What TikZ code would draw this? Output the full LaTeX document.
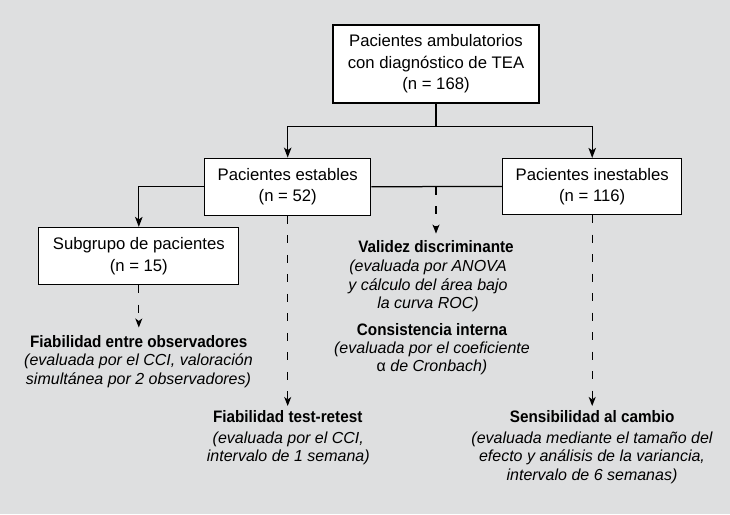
\documentclass[tikz,border=0pt]{standalone}
\usepackage{fontspec}
\setmainfont{Liberation Sans}
\newfontfamily\bcond{Liberation Sans}[FakeStretch=0.92]
\usetikzlibrary{arrows.meta}
\definecolor{bg}{RGB}{222,223,224}
\newcommand{\bx}[1]{\begin{tabular}{@{}c@{}}#1\end{tabular}}
\newcommand{\bt}[1]{\begin{tabular}[t]{@{}c@{}}#1\end{tabular}}
\begin{document}
\begin{tikzpicture}[x=1pt,y=-1pt,
  box/.style={draw=black,fill=white,line width=1.2pt,inner sep=0pt,font=\fontsize{16.7}{21.6}\selectfont},
  ttl/.style={inner xsep=0pt,inner ysep=4.5pt,anchor=base,font=\bcond\bfseries\fontsize{16.6}{18}\selectfont},
  body/.style={inner sep=0pt,anchor=base,font=\fontsize{16}{18.4}\selectfont\itshape},
  conn/.style={line width=1.25pt},
  arr/.style={conn,-{Stealth[length=10pt,width=7.5pt,inset=2.5pt]}},
  darr/.style={conn,dash pattern=on 8pt off 11.5pt,-{Stealth[length=9pt,width=7pt,inset=2.5pt]}}]
\fill[bg] (0,0) rectangle (730,514);
\node[box,minimum width=206pt,minimum height=78pt] (top) at (436,64) {\bx{Pacientes ambulatorios\\con diagnóstico de TEA\\(n = 168)}};
\node[box,minimum width=166pt,minimum height=57pt] (est) at (287.7,186.7) {\bx{Pacientes estables\\(n = 52)}};
\node[box,minimum width=179pt,minimum height=56pt] (ine) at (592.2,186.5) {\bx{Pacientes inestables\\(n = 116)}};
\node[box,minimum width=200pt,minimum height=57pt] (sub) at (138.8,256) {\bx{Subgrupo de pacientes\\(n = 15)}};
\node[ttl,inner ysep=8pt] (fe) at (138.8,347.7) {Fiabilidad entre observadores};
\node[body] (feb) at (138.5,365.7) {\bt{(evaluada por el CCI, valoración\\simultánea por 2 observadores)}};
\node[ttl] (tr) at (287.7,422.7) {Fiabilidad test-retest};
\node[body] (trb) at (288.3,443.3) {\bt{(evaluada por el CCI,\\intervalo de 1 semana)}};
\node[ttl,inner ysep=6.5pt] (vd) at (436,252.3) {Validez discriminante};
\node[body] (vdb) at (428,271.7) {\bt{(evaluada por ANOVA\\y cálculo del área bajo\\la curva ROC)}};
\node[ttl] (ci) at (432,335) {Consistencia interna};
\node[body] (cib) at (432,353.3) {\bt{(evaluada por el coeficiente\\{\upshape α} de Cronbach)}};
\node[ttl] (se) at (592.2,422.7) {Sensibilidad al cambio};
\node[body] (seb) at (592,443.3) {\bt{(evaluada mediante el tamaño del\\efecto y análisis de la variancia,\\intervalo de 6 semanas)}};
\coordinate (j) at (top.south |- 0,126.7);
\coordinate (m) at (est.east -| top.south);
\draw[conn] (top.south) -- (j);
\draw[arr] (j) -| (est.north);
\draw[arr] (j) -| (ine.north);
\draw[arr] (est.west) -| (sub.north);
\draw[conn] (est.east) -- (ine.west);
\draw[darr] (m) -- (vd.north);
\draw[darr] (sub.south) -- (fe.north);
\draw[darr] (est.south) -- (tr.north);
\draw[darr] (ine.south) -- (se.north);
\end{tikzpicture}
\end{document}
